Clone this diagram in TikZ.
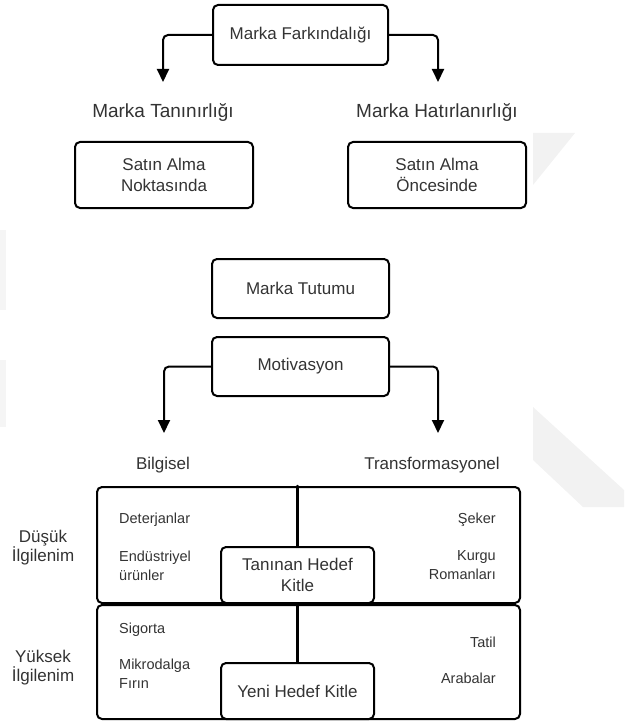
\documentclass[tikz,border=0pt]{standalone}
\usepackage{fontspec}
\setmainfont{Liberation Sans}
\usetikzlibrary{arrows.meta}

\begin{document}
\begin{tikzpicture}[x=1pt,y=-1pt,>={Triangle[length=13pt,width=12pt]},line cap=round,
  every node/.style={text=black!80},
  box/.style={draw=black,line width=2pt,rounded corners=5pt,align=center,inner sep=0pt,
    font=\fontsize{17}{21.5}\selectfont},
  arr/.style={->,line width=2pt,rounded corners=5pt},
  lbl/.style={anchor=base,inner sep=0pt,font=\fontsize{19}{22}\selectfont},
  side/.style={inner sep=0pt,font=\fontsize{17}{19}\selectfont},
  item/.style={inner sep=0pt,font=\fontsize{14.5}{19}\selectfont}]
\useasboundingbox (0,0) rectangle (624,722);
% faint watermark
\fill[black!5] (533,133) -- (575,133) -- (533,185) -- cycle;
\fill[black!5] (533,407) -- (624,490) -- (624,507) -- (583,507) -- (533,460) -- cycle;
\fill[black!4] (0,230) rectangle (6,310);
\fill[black!4] (0,360) rectangle (6,427);
% awareness
\node[box,minimum width=175,minimum height=60] (fark) at (300.5,35) {Marka Farkındalığı};
\coordinate (tanarr) at (163,82);
\coordinate (hatarr) at (438,82);
\draw[arr] (fark.west) -| (tanarr);
\draw[arr] (fark.east) -| (hatarr);
\node[lbl] (tanlbl) at (163,118) {Marka Tanınırlığı};
\node[lbl] (hatlbl) at (437,118) {Marka Hatırlanırlığı};
\node[box,minimum width=178,minimum height=66] (nokta) at (164,175) {Satın Alma\\Noktasında};
\node[box,minimum width=178,minimum height=66] (once) at (437,175) {Satın Alma\\Öncesinde};
% attitude
\node[box,minimum width=177,minimum height=59] (tutum) at (300.5,288.5) {Marka Tutumu};
\node[box,minimum width=177,minimum height=59] (motiv) at (300.5,366.5) {Motivasyon};
\coordinate (bilarr) at (164,433);
\coordinate (trarr) at (438,433);
\draw[arr] (motiv.west) -| (bilarr);
\draw[arr] (motiv.east) -| (trarr);
\node[lbl,font=\fontsize{17}{21}\selectfont] (bilgi) at (163,469) {Bilgisel};
\node[lbl,font=\fontsize{17}{21}\selectfont] (trans) at (432,469) {Transformasyonel};
% grid
\node[box,minimum width=423,minimum height=116] (dusuk) at (308.5,545) {};
\node[box,minimum width=423,minimum height=114] (yuksek) at (308.5,662) {};
\node[box,fill=white,minimum width=153,minimum height=56] (tanin) at (297.5,575) {Tanınan Hedef\\Kitle};
\node[box,fill=white,minimum width=153,minimum height=56] (yeni) at (297.5,691) {Yeni Hedef Kitle};
\draw[line width=2.5pt] (dusuk.north -| tanin.north) -- (tanin.north);
\draw[line width=2.5pt] (yuksek.north -| yeni.north) -- (yeni.north);
\node[side,align=center] (dsk) at (43,548) {Düşük\\İlgilenim};
\node[side,align=center] (ysk) at (43,668) {Yüksek\\İlgilenim};
\node[item,anchor=base west] (deter) at (119,523) {Deterjanlar};
\node[item,anchor=west,align=left] (endus) at (119,566) {Endüstriyel\\ürünler};
\node[item,anchor=base east] (seker) at (496,523) {Şeker};
\node[item,anchor=east,align=right] (kurgu) at (496,565) {Kurgu\\Romanları};
\node[item,anchor=base west] (sigor) at (119,633) {Sigorta};
\node[item,anchor=west,align=left] (mikro) at (119,674) {Mikrodalga\\Fırın};
\node[item,anchor=base east] (tatil) at (496,647) {Tatil};
\node[item,anchor=base east] (araba) at (496,683) {Arabalar};
\end{tikzpicture}
\end{document}
